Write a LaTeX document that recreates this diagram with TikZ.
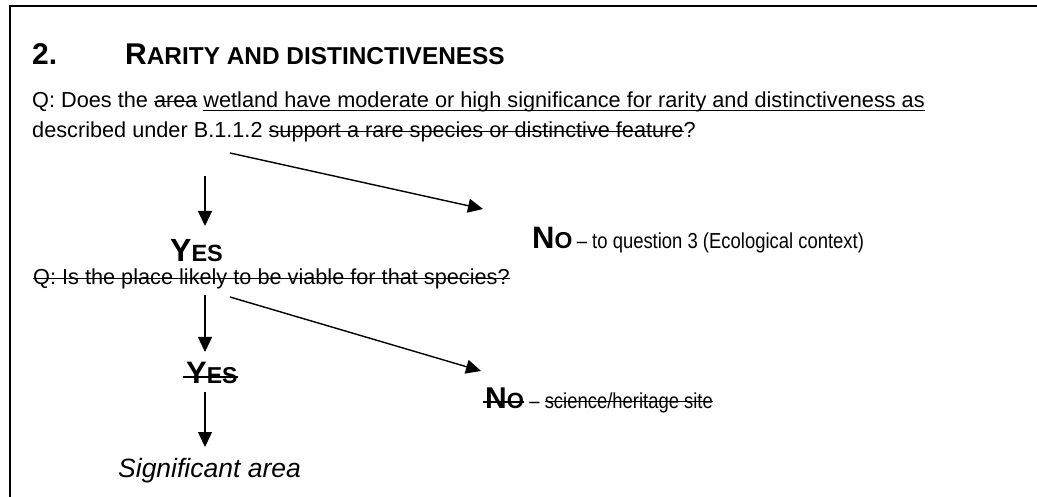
\documentclass[tikz,border=0pt]{standalone}
\usepackage{fontspec}
\setmainfont{Liberation Sans}
\usetikzlibrary{arrows.meta}
\newsavebox{\sbx}
\newcommand{\strk}[1]{\sbox{\sbx}{#1}\rlap{\rule[0.27em]{\wd\sbx}{1.3pt}}\usebox{\sbx}}
\newcommand{\undl}[1]{\sbox{\sbx}{#1}\rlap{\rule[-3.5pt]{\wd\sbx}{1.4pt}}\usebox{\sbx}}
\tikzset{
  txt/.style={inner sep=0pt, anchor=base west},
  arr/.style={line width=1.4pt, -{Triangle[length=15pt,width=14pt]}},
  frame/.style={line width=2pt},
  strike/.style={line width=1.5pt},
}
\newcommand{\fs}[1]{\fontsize{#1}{#1}\selectfont}
\begin{document}
\begin{tikzpicture}[x=1pt,y=-1pt]
\useasboundingbox (0,0) rectangle (1037,497);
\draw[frame] (9.5,497) -- (9.5,6) -- (1037,6);
\node[txt] (num) at (32,65) {\bfseries\fs{30}2.};
\node[txt] (title) at (125,65) {\bfseries\fs{30}R\fs{24.4}ARITY AND DISTINCTIVENESS};
\node[txt] (q1a) at (32,108) {\fs{21.7}Q: Does the \strk{area} \undl{wetland have moderate or high significance for rarity and distinctiveness as}};
\node[txt] (q1b) at (32,138) {\fs{21.7}described under B.1.1.2 \strk{support a rare species or distinctive feature}?};
\coordinate (a1s) at (205,176); \coordinate (a1e) at (205,226);
\draw[arr] (a1s) -- (a1e);
\coordinate (a2s) at (230,153); \coordinate (a2e) at (483,209);
\draw[arr] (a2s) -- (a2e);
\node[txt] (yes1) at (170,262) {\bfseries\fs{32}Y\fs{23.5}ES};
\node[txt] (no1) at (532,249) {\bfseries\fs{31}N\fs{23}O};
\node[txt] (no1t) at ([xshift=4pt]no1.base east) {\scalebox{0.85}[1]{\fs{21.7}– to question 3 (Ecological context)}};
\node[txt] (q2) at (33,285) {\fs{21.7}\strk{Q: Is the place likely to be viable for that species?}};
\coordinate (a3s) at (205,295); \coordinate (a3e) at (205,352);
\draw[arr] (a3s) -- (a3e);
\coordinate (a4s) at (230,297); \coordinate (a4e) at (481,371);
\draw[arr] (a4s) -- (a4e);
\node[txt] (yes2) at (186,383) {\bfseries\fs{31}Y\fs{23}ES};
\draw[strike] ([xshift=-3pt,yshift=6pt]yes2.base west) -- ([yshift=6pt]yes2.base east);
\coordinate (a5s) at (205,392); \coordinate (a5e) at (205,447);
\draw[arr] (a5s) -- (a5e);
\node[txt] (no2) at (485,408) {\bfseries\fs{30}N\fs{22}O};
\draw[strike] ([xshift=-2pt,yshift=6pt]no2.base west) -- ([yshift=6pt]no2.base east);
\node[txt] (no2t) at ([xshift=5pt]no2.base east) {\scalebox{0.85}[1]{\fs{21.7}– \strk{science/heritage site}}};
\node[txt] (sig) at (118,477) {\itshape\fs{26.5}Significant area};
\end{tikzpicture}
\end{document}
